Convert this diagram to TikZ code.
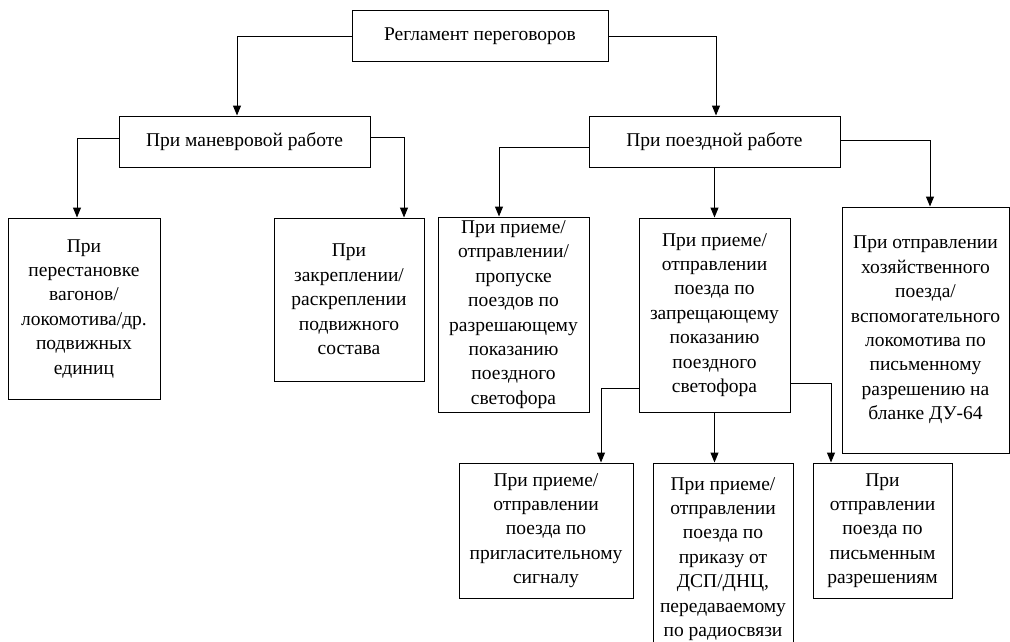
\documentclass[tikz,border=0pt]{standalone}
\usepackage{fontspec}
\setmainfont{Liberation Serif}
\usetikzlibrary{arrows.meta}
\tikzset{
  box/.style={draw, line width=1pt, fill=white, inner sep=0pt, align=center,
    font=\fontsize{19.5}{24.4}\selectfont},
  arr/.style={line width=1pt, -{Triangle[length=10pt,width=8pt]}}
}
\begin{document}
\begin{tikzpicture}[x=1pt,y=-1pt]
\useasboundingbox (0,0) rectangle (1010,642);
\node[box, minimum width=256pt, minimum height=51pt] (root) at (480,36.5) {Регламент переговоров};
\node[box, minimum width=251pt, minimum height=51pt] (man) at (244.5,141.5) {При маневровой работе};
\node[box, minimum width=251pt, minimum height=51pt] (train) at (714.5,141.5) {При поездной работе};
\node[box, minimum width=152pt, minimum height=181pt] (b1) at (84,308.5) {При\\перестановке\\вагонов/\\локомотива/др.\\подвижных\\единиц};
\node[box, minimum width=150pt, minimum height=163pt] (b2) at (349,299.5) {При\\закреплении/\\раскреплении\\подвижного\\состава};
\node[box, minimum width=151pt, minimum height=195pt] (b3) at (513.5,314.5) {При приеме/\\отправлении/\\пропуске\\поездов по\\разрешающему\\показанию\\поездного\\светофора};
\node[box, minimum width=151pt, minimum height=194pt] (b4) at (714.5,315) {При приеме/\\отправлении\\поезда по\\запрещающему\\показанию\\поездного\\светофора};
\node[box, minimum width=167pt, minimum height=246pt] (b5) at (925.5,330) {При отправлении\\хозяйственного\\поезда/\\вспомогательного\\локомотива по\\письменному\\разрешению на\\бланке ДУ-64};
\node[box, minimum width=174pt, minimum height=135pt] (b6) at (546,530.5) {При приеме/\\отправлении\\поезда по\\пригласительному\\сигналу};
\node[box, minimum width=140pt, minimum height=192pt] (b7) at (723,559) {При приеме/\\отправлении\\поезда по\\приказу от\\ДСП/ДНЦ,\\передаваемому\\по радиосвязи};
\node[box, minimum width=139pt, minimum height=135pt] (b8) at (882.5,530.5) {При\\отправлении\\поезда по\\письменным\\разрешениям};

\draw[arr] (root.west) -| ([xshift=-7.5pt]man.north);
\draw[arr] (root.east) -| ([xshift=1.5pt]train.north);
\draw[arr] ([yshift=3.5pt]man.west) -| ([xshift=-7pt]b1.north);
\draw[arr] ([yshift=4.5pt]man.east) -| ([xshift=55pt]b2.north);
\draw[arr] ([yshift=-5.5pt]train.west) -| ([xshift=-14.5pt]b3.north);
\draw[arr] (train.south) -- (b4.north);
\draw[arr] ([yshift=1.5pt]train.east) -| ([xshift=4.5pt]b5.north);
\draw[arr] ([yshift=-73pt]b4.west) -| ([xshift=55pt]b6.north);
\draw[arr] (b4.south) -- (b4.south |- b7.north);
\draw[arr] ([yshift=-68pt]b4.east) -| ([xshift=-51.5pt]b8.north);
\end{tikzpicture}
\end{document}
